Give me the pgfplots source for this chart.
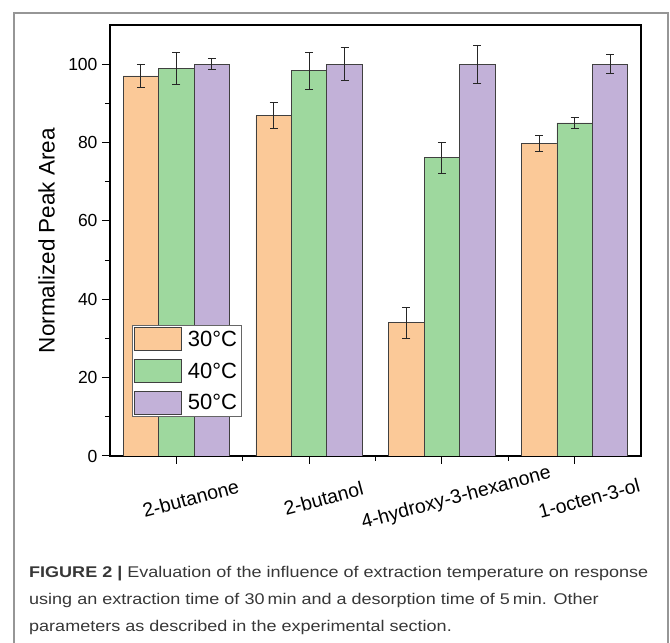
\documentclass[border=0pt]{standalone}
\usepackage{graphicx}
\usepackage{pgfplots}
\pgfplotsset{compat=1.18}
\usepackage{fontspec}
\setmainfont{Liberation Sans}
\definecolor{c30}{RGB}{251,201,152}
\definecolor{c40}{RGB}{158,216,158}
\definecolor{c50}{RGB}{194,177,216}
\definecolor{framegray}{RGB}{150,150,150}
\definecolor{captxt}{RGB}{55,55,55}
\newlength\capw
\newcommand\capfont{\fontsize{15.5}{18}\selectfont}
\newcommand\lineone{\textbf{FIGURE 2 |} Evaluation of the influence of extraction temperature on response}
\pgfplotsset{
  mylegimg/.style={legend image code/.code={\draw[##1, draw=black!75, line width=0.8pt] (0pt,-11.5pt) rectangle (47pt,11.5pt);}}
}
\AtBeginDocument{\settowidth\capw{\capfont\lineone}\pgfmathsetmacro\capsc{619/\the\capw}\global\let\capsc\capsc}
\begin{document}
\begin{tikzpicture}[x=1pt,y=1pt]
\useasboundingbox (0,0) rectangle (670,643);
\draw[framegray, line width=1.6pt] (14,-5) -- (14,630) -- (668,630) -- (668,-5);
\begin{axis}[
  at={(110pt,187pt)}, anchor=south west,
  scale only axis, width=531pt, height=431pt,
  ybar=0pt, bar width=0.267,
  xmin=0.5, xmax=4.5, ymin=0, ymax=110,
  xtick={1,2,3,4},
  xticklabels={2-butanone,2-butanol,4-hydroxy-3-hexanone,1-octen-3-ol},
  minor xtick={1.5,2.5,3.5},
  ytick={0,20,40,60,80,100}, minor ytick={10,30,50,70,90},
  tick align=outside, tick pos=left,
  major tick length=8pt, minor tick length=5pt,
  every tick/.style={black, line width=1pt},
  axis line style={line width=1.2pt},
  /pgf/number format/assume math mode=true,
  yticklabel style={font=\fontsize{17.5}{18}\selectfont, xshift=-1pt},
  xticklabel style={font=\fontsize{19.5}{20}\selectfont, rotate=15, anchor=center, xshift=5pt, yshift=-37pt},
  ylabel={Normalized Peak Area},
  ylabel style={font=\fontsize{22.5}{24}\selectfont, at={(axis description cs:-0.1196,0.5)}, anchor=center},
  legend style={at={(0.041,0.09)}, anchor=south west, draw=black!60, line width=0.8pt,
    font=\fontsize{22}{22}\selectfont, inner sep=2pt, row sep=8pt,
    /tikz/every odd column/.append style={column sep=4pt}},
  legend cell align=left,
  error bars/error bar style={line width=0.9pt, black!85},
  error bars/error mark options={rotate=90, mark size=4pt, line width=0.9pt, black!85},
]
\addplot[fill=c30, draw=black!75, line width=0.8pt, mylegimg,
  error bars/.cd, y dir=both, y explicit]
  coordinates {(1,97.0) +- (0,3.05) (2,86.9) +- (0,3.3) (3,34.0) +- (0,4.0) (4,79.85) +- (0,2.05)};
\addplot[fill=c40, draw=black!75, line width=0.8pt, mylegimg,
  error bars/.cd, y dir=both, y explicit]
  coordinates {(1,98.9) +- (0,4.15) (2,98.3) +- (0,4.7) (3,76.1) +- (0,3.9) (4,85.0) +- (0,1.35)};
\addplot[fill=c50, draw=black!75, line width=0.8pt, mylegimg,
  error bars/.cd, y dir=both, y explicit]
  coordinates {(1,100) +- (0,1.45) (2,100) +- (0,4.2) (3,100) +- (0,4.9) (4,100) +- (0,2.45)};
\legend{30°C,40°C,50°C}
\end{axis}
\node[anchor=base west, inner sep=0pt, text=captxt] at (29,65) {\scalebox{\capsc}[1]{\capfont\lineone}};
\node[anchor=base west, inner sep=0pt, text=captxt] at (29,38) {\scalebox{\capsc}[1]{\capfont using an extraction time of 30\,min and a desorption time of 5\,min. Other}};
\node[anchor=base west, inner sep=0pt, text=captxt] at (29,11) {\scalebox{\capsc}[1]{\capfont parameters as described in the experimental section.}};
\end{tikzpicture}
\end{document}
